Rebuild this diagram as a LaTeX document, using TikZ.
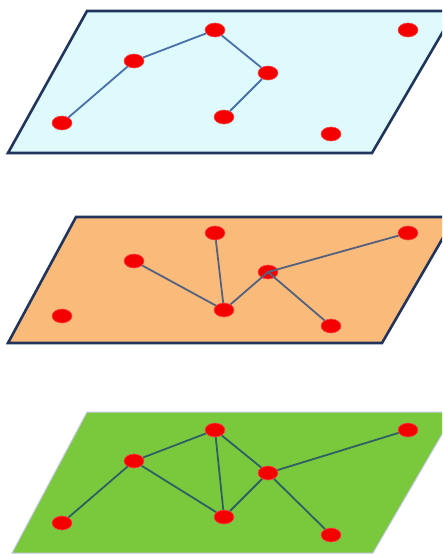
\documentclass[tikz,border=0pt]{standalone}
\usepackage{xcolor}
\usetikzlibrary{positioning,shapes.geometric}
\definecolor{navy}{RGB}{32,52,92}
\definecolor{skyfill}{RGB}{222,250,252}
\definecolor{peach}{RGB}{250,186,122}
\definecolor{grass}{RGB}{122,200,60}
\definecolor{lav}{RGB}{200,200,235}
\definecolor{dotred}{RGB}{245,0,0}
\definecolor{linkA}{RGB}{72,112,170}
\definecolor{linkB}{RGB}{84,98,128}
\definecolor{linkC}{RGB}{46,96,100}
\begin{document}
\begin{tikzpicture}[x=1pt,y=-1pt,vtx/.style={ellipse,fill=dotred,draw=dotred!70!white,line width=0.6pt,minimum width=20pt,minimum height=14pt,inner sep=0pt},lnk/.style={line width=1.8pt},plane/.style={line width=2.6pt,draw=navy,line join=miter}]
\clip (0,0) rectangle (442,554);
% top layer
\draw[plane,fill=skyfill] (8,153)--(87,11)--(455,11)--(372,153)--cycle;
\node[vtx] (a1) at (62,123) {};\node[vtx] (b1) at (134,61) {};\node[vtx] (c1) at (215,30) {};
\node[vtx] (d1) at (268,73) {};\node[vtx] (e1) at (224,117) {};\node[vtx] (f1) at (408,30) {};
\node[vtx] (g1) at (331,134) {};
\draw[lnk,linkA] (a1)--(b1)--(c1)--(d1)--(e1);
% middle layer
\draw[plane,fill=peach] (8,343)--(76,217)--(455,217)--(382,343)--cycle;
\node[vtx] (a2) at (62,316) {};\node[vtx] (b2) at (134,261) {};\node[vtx] (c2) at (215,233) {};
\node[vtx] (d2) at (268,272) {};\node[vtx] (e2) at (224,310) {};\node[vtx] (f2) at (408,233) {};
\node[vtx] (g2) at (331,326) {};
\draw[lnk,linkB] (b2)--(e2) (c2)--(e2) (e2)--(d2.center) (d2.center)--(f2) (d2.center)--(g2);
% bottom layer
\draw[line width=1pt,draw=lav,fill=grass] (12,553)--(87,412)--(455,412)--(373,553)--cycle;
\node[vtx] (a3) at (62,523) {};\node[vtx] (b3) at (134,461) {};\node[vtx] (c3) at (215,430) {};
\node[vtx] (d3) at (268,473) {};\node[vtx] (e3) at (224,517) {};\node[vtx] (f3) at (408,430) {};
\node[vtx] (g3) at (331,535) {};
\draw[lnk,linkC] (a3)--(b3)--(c3)--(d3)--(f3) (b3)--(e3)--(d3)--(g3) (c3)--(e3);
\end{tikzpicture}
\end{document}
